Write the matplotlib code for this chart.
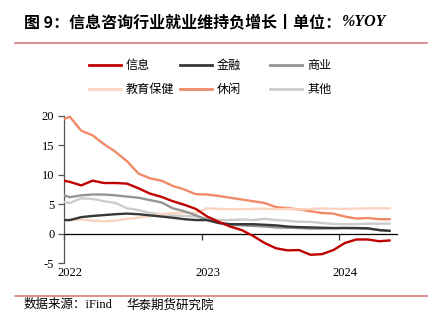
import numpy as np
import matplotlib.pyplot as plt
from matplotlib.lines import Line2D
from matplotlib.transforms import blended_transform_factory, ScaledTranslation

plt.rcParams['font.family'] = ['Noto Sans CJK SC', 'DejaVu Sans']

# ---------- data: YoY employment growth, % ----------
# month offset from Jan 2022: first obs, then mid-month points through May 2024
months = np.array([0] + [m + 0.5 for m in range(29)])
year_ticks = [0, 12, 24]
year_labels = ['2022', '2023', '2024']

info = [9.0, 8.8, 8.2, 9.0, 8.6, 8.6, 8.5, 7.7, 6.8, 6.25, 5.5, 4.9, 4.2,
        2.9, 2.0, 1.2, 0.6, -0.4, -1.6, -2.5, -2.85, -2.8, -3.6, -3.5, -2.8,
        -1.6, -1.0, -1.0, -1.3, -1.15]
finance = [2.3, 2.3, 2.8, 3.0, 3.15, 3.3, 3.4, 3.3, 3.1, 2.9, 2.7, 2.45, 2.3,
           2.3, 1.8, 1.6, 1.6, 1.6, 1.5, 1.4, 1.2, 1.1, 1.05, 1.0, 0.95,
           0.95, 0.95, 0.9, 0.6, 0.45]
business = [6.5, 6.2, 6.5, 6.65, 6.65, 6.5, 6.3, 6.1, 5.7, 5.3, 4.3, 3.8, 3.1,
            2.3, 1.8, 1.5, 1.4, 1.3, 1.2, 1.05, 1.0, 0.95, 0.85, 0.85, 0.9,
            0.95, 0.9, 0.85, 0.6, 0.45]
edu_health = [2.3, 2.3, 2.4, 2.2, 2.1, 2.2, 2.5, 2.7, 3.0, 3.3, 3.5, 3.6, 3.5,
              4.3, 4.2, 4.15, 4.15, 4.2, 4.25, 4.15, 4.2, 4.1, 4.2, 4.3, 4.2,
              4.2, 4.25, 4.3, 4.3, 4.3]
leisure = [19.45, 19.9, 17.5, 16.7, 15.2, 13.9, 12.3, 10.2, 9.4, 9.0, 8.1, 7.5,
           6.7, 6.65, 6.4, 6.1, 5.8, 5.5, 5.2, 4.5, 4.35, 4.1, 3.8, 3.5, 3.4,
           2.9, 2.55, 2.65, 2.45, 2.45]
other = [5.4, 5.2, 6.0, 5.9, 5.5, 5.2, 4.3, 4.0, 3.5, 3.3, 3.1, 3.0, 2.9,
         2.6, 2.3, 2.3, 2.4, 2.3, 2.5, 2.3, 2.2, 2.0, 2.0, 1.8, 1.65,
         1.6, 1.6, 1.7, 1.7, 1.7]

# legend layout order (row by row) with colours
series = [
    ('信息', info, '#C00000'),
    ('金融', finance, '#383838'),
    ('商业', business, '#959595'),
    ('教育保健', edu_health, '#FBD3C0'),
    ('休闲', leisure, '#F08A68'),
    ('其他', other, '#CCCCCC'),
]

W, H = 438, 328
fig = plt.figure(figsize=(W / 100, H / 100), dpi=100)
ax = fig.add_axes([64 / W, 1 - 263 / H, (397 - 64) / W, (263 - 116) / H])

# draw so that 信息 ends up on top
for name, vals, col in reversed(series):
    ax.plot(months, vals, color=col, lw=1.7, solid_capstyle='butt', zorder=3)

ax.set_xlim(0, 29.05)
ax.set_ylim(-5, 20)
ax.set_yticks([-5, 0, 5, 10, 15, 20])
ax.set_yticklabels(['-5', '0', '5', '10', '15', '20'], family='Liberation Serif', fontsize=9)
ax.tick_params(axis='y', direction='out', length=4, width=0.9, color='#555555', pad=3)

ax.spines['top'].set_visible(False)
ax.spines['right'].set_visible(False)
ax.spines['left'].set_color('#555555')
ax.spines['left'].set_linewidth(0.9)
ax.spines['bottom'].set_position(('data', 0))
ax.spines['bottom'].set_color('black')
ax.spines['bottom'].set_linewidth(0.9)
ax.set_xticks(year_ticks)
ax.set_xticklabels([])
ax.tick_params(axis='x', direction='out', length=4, width=0.9, color='#333333')

# year labels sit below the plot, nudged right of their ticks
trans = blended_transform_factory(ax.transData, ax.transAxes) + \
    ScaledTranslation(0.06, -0.10, fig.dpi_scale_trans)
for xt, lab in zip(year_ticks, year_labels):
    ax.text(xt, 0, lab, transform=trans, ha='center', va='center',
            family='Liberation Serif', fontsize=9)

# title
t = fig.text(24 / W, 1 - 22 / H, '图 9：信息咨询行业就业维持负增长丨单位：',
             fontsize=11.5, fontweight='bold', va='center', ha='left')
fig.canvas.draw()
bb = t.get_window_extent(fig.canvas.get_renderer())
fig.text(bb.x1 / W + 1 / W, 1 - 22 / H, '%YOY', family='Liberation Serif',
         fontsize=11.5, fontweight='bold', style='italic', va='center', ha='left')

# red rules above and below
fig.add_artist(Line2D([15 / W, 427 / W], [1 - 43 / H, 1 - 43 / H], color='#D27272', lw=1.1))
fig.add_artist(Line2D([15 / W, 427 / W], [1 - 296 / H, 1 - 296 / H], color='#D27272', lw=1.1))

# legend, 3 columns x 2 rows
col_x = [89, 180, 270]
row_y = [65, 89]
for i, (name, vals, col) in enumerate(series):
    x0 = col_x[i % 3]
    y0 = 1 - row_y[i // 3] / H
    fig.add_artist(Line2D([x0 / W, (x0 + 32) / W], [y0, y0], color=col, lw=2.0))
    fig.text((x0 + 37) / W, y0, name, fontsize=8.7, va='center', ha='left')

# source note
fig.text(24 / W, 1 - 305 / H, '数据来源：iFind', fontsize=9, va='center', ha='left',
         family=['Liberation Serif', 'Noto Sans CJK SC'])
fig.text(126 / W, 1 - 305 / H, '华泰期货研究院', fontsize=9, va='center', ha='left')

fig.savefig('out.png', dpi=100)
